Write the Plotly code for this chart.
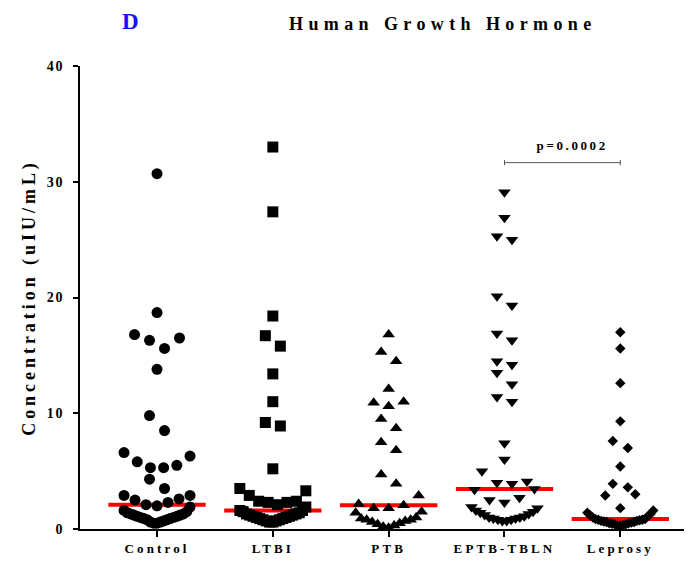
import numpy as np
import plotly.graph_objects as go

# ---- data -------------------------------------------------------------
categories = ["Control", "LTBI", "PTB", "EPTB-TBLN", "Leprosy"]

control = [30.7, 18.7, 16.8, 16.5, 16.3, 15.6, 13.8, 9.8, 8.5, 6.6, 6.3, 5.8,
           5.5, 5.3, 5.3, 4.3, 3.5, 2.9, 2.9, 2.6, 2.5, 2.3, 2.1, 2.0, 1.9,
           1.6, 1.5, 1.4, 1.3, 1.3, 1.2, 1.2, 1.1, 1.1, 1.0, 1.0, 0.9, 0.9,
           0.8, 0.8, 0.7, 0.6, 0.6, 0.5, 0.5]
ltbi = [33.0, 27.4, 18.4, 16.7, 15.8, 13.4, 11.0, 9.2, 8.9, 5.2, 3.5, 3.3,
        2.9, 2.4, 2.4, 2.3, 2.3, 2.1, 1.9, 1.6, 1.6, 1.5, 1.4, 1.3, 1.3, 1.2,
        1.2, 1.1, 1.1, 1.0, 1.0, 0.9, 0.9, 0.8, 0.8, 0.7, 0.7, 0.6, 0.6]
ptb = [16.8, 15.3, 14.5, 12.1, 11.0, 10.9, 10.6, 9.5, 8.7, 7.5, 6.8, 4.7, 3.9,
       2.9, 2.15, 2.05, 1.8, 1.8, 1.5, 1.4, 1.0, 0.9, 0.8, 0.8, 0.7, 0.6, 0.5,
       0.4, 0.3, 0.2, 0.1]
eptb_tbln = [29.1, 26.9, 25.3, 25.0, 20.1, 19.3, 16.9, 16.3, 14.5, 14.2, 13.5,
             12.5, 11.4, 11.0, 7.4, 6.0, 5.0, 4.1, 4.0, 3.9, 3.45, 3.4, 2.7,
             2.5, 2.3, 1.9, 1.8, 1.6, 1.5, 1.4, 1.3, 1.2, 1.1, 1.0, 1.0, 0.9,
             0.9, 0.8, 0.8, 0.7, 0.7]
leprosy = [17.0, 15.6, 12.6, 9.3, 7.6, 7.0, 5.4, 3.9, 3.6, 3.0, 2.9, 1.8, 1.6,
           1.4, 1.3, 1.2, 1.1, 1.0, 0.86, 0.85, 0.8, 0.8, 0.75, 0.7, 0.7, 0.65,
           0.6, 0.6, 0.55, 0.5, 0.5, 0.45, 0.4, 0.4, 0.35, 0.3, 0.3]

groups = [control, ltbi, ptb, eptb_tbln, leprosy]
y_ticks = [0, 10, 20, 30, 40]
p_text = "p=0.0002"
compared = (3, 4)  # EPTB-TBLN vs Leprosy

# ---- geometry ---------------------------------------------------------
W, H = 690, 566
M = dict(l=80, r=6, t=66, b=37)
X_RANGE = [-0.665, 4.55]
Y_RANGE = [0, 40]
px_x = (W - M["l"] - M["r"]) / (X_RANGE[1] - X_RANGE[0])
px_y = (H - M["t"] - M["b"]) / (Y_RANGE[1] - Y_RANGE[0])

symbols = ["circle", "square", "triangle-up", "triangle-down", "diamond"]
sizes = [11, 11, 11, 11, 8]
FONT = "Liberation Serif"


def swarm(values, row_h=1.4, step=15.0, max_half=33.0):
    """Prism-style column scatter: values grouped into rows, each row
    spread symmetrically, lowest value nearest the centre."""
    vals = np.asarray(values, float)
    order = np.argsort(vals, kind="stable")
    offs = np.zeros(len(vals))
    rows, cur, start = [], [], None
    for i in order:
        if start is None or vals[i] - start > row_h:
            if cur:
                rows.append(cur)
            cur, start = [i], vals[i]
        else:
            cur.append(i)
    if cur:
        rows.append(cur)
    for row in rows:
        n = len(row)
        s = step if n < 2 else min(step, 2 * max_half / (n - 1))
        if n % 2:
            slots = [0] + [v for k in range(1, n) for v in (-k, k)]
        else:
            slots = [v for k in range(n) for v in (k + 0.5, -(k + 0.5))]
        for idx, slot in zip(row, slots[:n]):
            offs[idx] = slot * s
    return offs / px_x


fig = go.Figure()

# medians
for gi, vals in enumerate(groups):
    med = float(np.median(vals))
    fig.add_trace(go.Scatter(
        x=[gi - 0.42, gi + 0.42], y=[med, med], mode="lines",
        line=dict(color="#ff0000", width=4), hoverinfo="skip",
        showlegend=False))

# points
for gi, vals in enumerate(groups):
    fig.add_trace(go.Scatter(
        x=gi + swarm(vals), y=vals, mode="markers",
        marker=dict(symbol=symbols[gi], size=sizes[gi], color="black",
                    line=dict(width=0)),
        cliponaxis=False, showlegend=False, name=categories[gi]))

# significance bracket
a, b = compared
yb = 31.65
tick = 0.22
for x0, y0, x1, y1 in [(a, yb, b, yb), (a, yb - tick, a, yb + tick),
                       (b, yb - tick, b, yb + tick)]:
    fig.add_shape(type="line", x0=x0, y0=y0, x1=x1, y1=y1, xref="x",
                  yref="y", line=dict(color="#555555", width=1))
fig.add_annotation(x=(a + b) / 2 + 0.08, y=33.1, text=p_text, showarrow=False,
                   font=dict(family=FONT, size=13, color="black",
                             weight="bold"),
                   xanchor="center", yanchor="middle")

# panel letter and title
fig.add_annotation(x=(130 - M["l"]) / (W - M["l"] - M["r"]), xref="paper",
                   y=1 + (M["t"] - 22) / (H - M["t"] - M["b"]), yref="paper",
                   text="D", showarrow=False, xanchor="center",
                   yanchor="middle",
                   font=dict(family=FONT, size=23, color="#1414f0",
                             weight="bold"))
fig.add_annotation(x=(443 - M["l"]) / (W - M["l"] - M["r"]), xref="paper",
                   y=1 + (M["t"] - 24) / (H - M["t"] - M["b"]), yref="paper",
                   text="Human Growth Hormone", showarrow=False,
                   xanchor="center", yanchor="middle",
                   font=dict(family=FONT, size=18, color="black",
                             weight="bold"))

fig.update_layout(
    width=W, height=H, margin=M, plot_bgcolor="white", paper_bgcolor="white",
    font=dict(family=FONT, color="black"),
    xaxis=dict(range=X_RANGE, tickvals=list(range(len(categories))),
               ticktext=categories, showgrid=False, zeroline=False,
               showline=True, linecolor="black", linewidth=2,
               ticks="outside", ticklen=6, tickwidth=2, tickcolor="black",
               tickfont=dict(family=FONT, size=13, weight="bold")),
    yaxis=dict(range=Y_RANGE, tickvals=y_ticks, showgrid=False,
               zeroline=False, showline=True, linecolor="black", linewidth=2,
               ticks="outside", ticklen=5, tickwidth=2, tickcolor="black",
               ticklabelstandoff=6,
               tickfont=dict(family=FONT, size=14, weight="bold"),
               title=dict(text="Concentration (uIU/mL)", standoff=10,
                          font=dict(family=FONT, size=18, weight="bold"))),
)

# Prism-style wide letter tracking on all labels
post = """
var gd = document.getElementById('{plot_id}');
function track(sel, sp) {
  gd.querySelectorAll(sel).forEach(function (t) { t.style.letterSpacing = sp; });
}
track('.xtick text', '0.24em');
track('.ytick text', '0.12em');
track('.g-ytitle text', '0.22em');
track('.annotation[data-index="0"] .annotation-text', '0.2em');
track('.annotation[data-index="2"] .annotation-text', '0.3em');
"""
fig.write_html("out.html", post_script=post)
